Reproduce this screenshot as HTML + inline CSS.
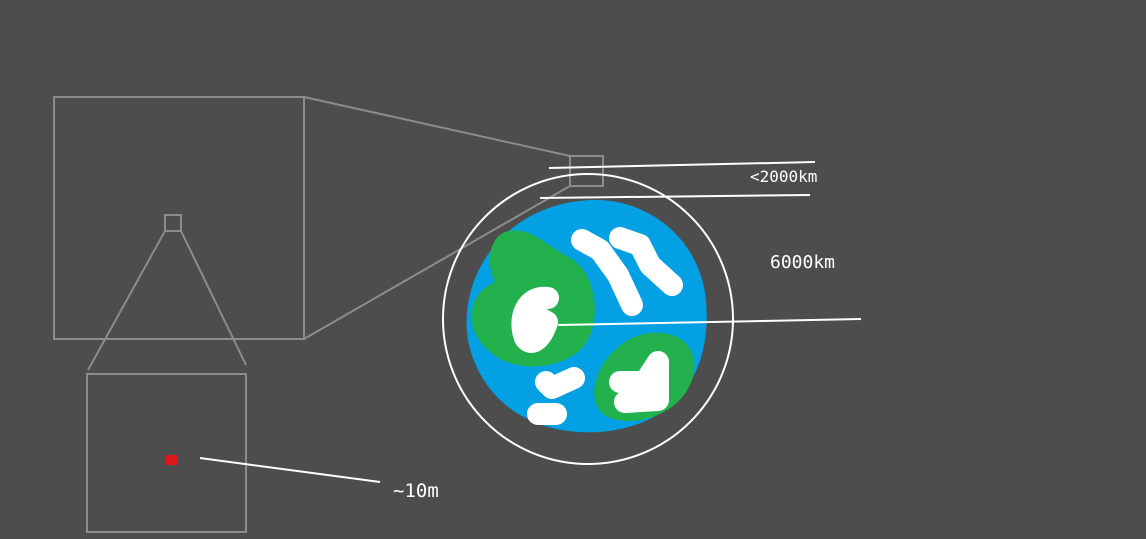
<!DOCTYPE html>
<html><head><meta charset="utf-8"><style>
html,body{margin:0;padding:0;background:#4d4d4d;width:1146px;height:539px;overflow:hidden}
svg{display:block}
text{font-family:"DejaVu Sans Mono","Liberation Mono",monospace;fill:#fff}
</style></head><body>
<svg width="1146" height="539" viewBox="0 0 1146 539">
<rect x="0" y="0" width="1146" height="539" fill="#4d4d4d"/>
<g stroke="#8c8c8c" stroke-width="2" fill="none">
<rect x="54" y="97" width="250" height="242"/>
<line x1="304" y1="97" x2="570" y2="156"/>
<line x1="304" y1="339" x2="570" y2="186"/>
<rect x="570" y="156" width="33" height="30"/>
<rect x="165" y="215" width="16" height="16"/>
<line x1="165" y1="231" x2="88" y2="370"/>
<line x1="181" y1="231" x2="246" y2="365"/>
<rect x="87" y="374" width="159" height="158"/>
</g>
<rect x="166" y="455" width="11" height="10" fill="#e0161b"/>
<line x1="200" y1="458" x2="380" y2="482" stroke="#fff" stroke-width="2"/>
<text x="393" y="497" font-size="19">~10m</text>
<g>
<path d="M590 200 C650 198 700 240 706 300 C712 370 680 425 600 432 C530 436 480 400 468 340 C458 280 500 205 590 200 Z" fill="#04a0e4"/>
<path d="M505 232 C530 225 545 245 570 258 C600 275 602 330 580 350 C555 372 510 372 488 350 C465 330 465 295 495 282 C485 262 490 238 505 232 Z" fill="#23b14d"/>
<path d="M640 335 C680 325 705 350 690 385 C678 412 640 428 610 418 C585 408 592 370 615 350 C622 343 630 338 640 335 Z" fill="#23b14d"/>
<g stroke="#fff" stroke-width="22" stroke-linecap="round" stroke-linejoin="round" fill="none">
<path d="M582 240 L600 250 L618 275 L632 305"/>
<path d="M620 238 L640 245 L650 265 L672 285"/>
<path d="M548 298 C525 295 518 320 525 338 C532 348 542 338 547 322 L540 318"/>
<path d="M546 382 L552 388 L574 378"/>
<path d="M538 414 L556 414"/>
<path d="M620 382 L645 382 L658 362 L658 400 L625 402"/>
</g>
</g>
<circle cx="588" cy="319" r="145" fill="none" stroke="#fff" stroke-width="2"/>
<g stroke="#fff" stroke-width="2">
<line x1="549" y1="168" x2="815" y2="162"/>
<line x1="540" y1="198" x2="810" y2="195"/>
<line x1="558" y1="325" x2="861" y2="319"/>
</g>
<text x="750" y="182" font-size="16">&lt;2000km</text>
<text x="770" y="268" font-size="18">6000km</text>
</svg>
</body></html>
